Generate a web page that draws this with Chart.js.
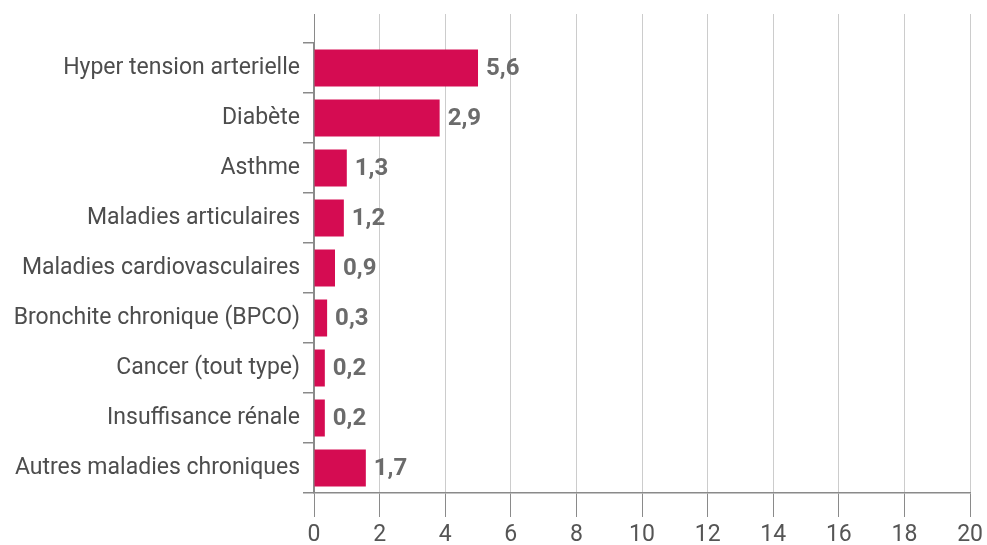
<!DOCTYPE html>
<html>
<head>
<meta charset="utf-8">
<script src="https://cdn.jsdelivr.net/npm/chart.js@4/dist/chart.umd.min.js"></script>
<style>
  html, body { margin: 0; padding: 0; background: #fff; }
  #wrap { width: 987px; height: 545px; }
</style>
</head>
<body>
<div id="wrap"><canvas id="chart" width="987" height="545"></canvas></div>
<script>
var categories = [
    'Hyper tension arterielle',
    'Diabète',
    'Asthme',
    'Maladies articulaires',
    'Maladies cardiovasculaires',
    'Bronchite chronique (BPCO)',
    'Cancer (tout type)',
    'Insuffisance rénale',
    'Autres maladies chroniques'
];
// bar lengths as drawn in the picture
var barValues = [5.0, 3.83, 1.0, 0.91, 0.64, 0.4, 0.33, 0.33, 1.58];
// numbers printed next to the bars
var shownLabels = ['5,6', '2,9', '1,3', '1,2', '0,9', '0,3', '0,2', '0,2', '1,7'];
var xTicks = [0, 2, 4, 6, 8, 10, 12, 14, 16, 18, 20];

var FONT = "'Roboto', 'Liberation Sans', sans-serif";
var GRID_W = 1;

// value labels at the end of each bar
var valueLabels = {
    id: 'valueLabels',
    afterDatasetsDraw: function (chart) {
        var ctx = chart.ctx;
        var meta = chart.getDatasetMeta(0);
        ctx.save();
        ctx.font = 'bold 24px ' + FONT;
        ctx.fillStyle = '#6b6b6b';
        ctx.textAlign = 'left';
        ctx.textBaseline = 'middle';
        meta.data.forEach(function (bar, i) {
            ctx.fillText(shownLabels[i], bar.x + 8, bar.y + 1);
        });
        ctx.restore();
    }
};

// grid lines run a bit above the first category
var gridExtend = {
    id: 'gridExtend',
    beforeDatasetsDraw: function (chart) {
        var ctx = chart.ctx;
        var area = chart.chartArea;
        var xs = chart.scales.x;
        var top = area.top - 29;
        ctx.save();
        ctx.lineWidth = GRID_W;
        xs.ticks.forEach(function (t) {
            var raw = xs.getPixelForValue(t.value);
            var px = Math.round(raw - GRID_W / 2) + GRID_W / 2;
            ctx.strokeStyle = t.value === 0 ? '#8a8a8a' : '#cccccc';
            ctx.beginPath();
            ctx.moveTo(px, top);
            ctx.lineTo(px, area.top + 1);
            ctx.stroke();
        });
        ctx.restore();
    }
};

new Chart(document.getElementById('chart').getContext('2d'), {
    type: 'bar',
    data: {
        labels: categories,
        datasets: [{
            data: barValues,
            backgroundColor: '#d50c52',
            borderWidth: 0,
            categoryPercentage: 1,
            barPercentage: 0.74
        }]
    },
    options: {
        indexAxis: 'y',
        responsive: false,
        animation: false,
        layout: { padding: { top: 43, right: 15, left: 0, bottom: 0 } },
        plugins: {
            legend: { display: false },
            tooltip: { enabled: false }
        },
        scales: {
            x: {
                min: 0,
                max: 20,
                afterBuildTicks: function (scale) {
                    scale.ticks = xTicks.map(function (v) { return { value: v }; });
                },
                afterFit: function (scale) { scale.height = 52; },
                grid: {
                    color: function (c) { return c.tick && c.tick.value === 0 ? '#8a8a8a' : '#cccccc'; },
                    lineWidth: GRID_W,
                    tickColor: '#8a8a8a',
                    tickLength: 24
                },
                border: { color: '#8a8a8a', width: 1.5 },
                ticks: {
                    color: '#555555',
                    padding: 4,
                    font: { family: FONT, size: 23 }
                }
            },
            y: {
                afterFit: function (scale) { scale.width = 314; },
                grid: {
                    offset: true,
                    drawOnChartArea: false,
                    tickColor: '#8a8a8a',
                    tickLength: 11,
                    lineWidth: 1.5
                },
                border: { color: '#8a8a8a', width: 1.5 },
                ticks: {
                    color: '#4d4d4d',
                    padding: 3,
                    font: { family: FONT, size: 23 }
                }
            }
        }
    },
    plugins: [valueLabels, gridExtend]
});
</script>
</body>
</html>
